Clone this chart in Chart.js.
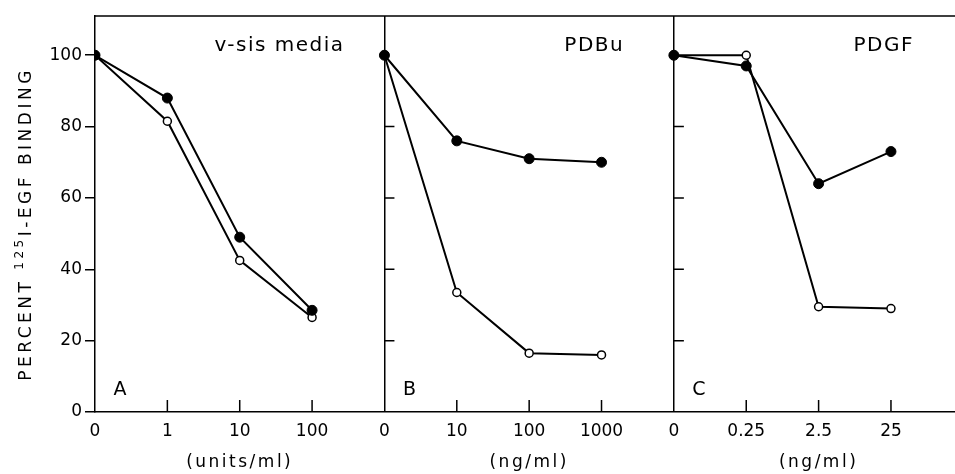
<!DOCTYPE html>
<html>
<head>
<meta charset="utf-8">
<title>Percent 125I-EGF binding</title>
<script src="https://cdn.jsdelivr.net/npm/chart.js@4.4.1/dist/chart.umd.min.js"></script>
<style>
  html, body { margin: 0; padding: 0; background: #fff; }
  #wrap { width: 955px; height: 474px; }
</style>
</head>
<body>
<div id="wrap"><canvas id="binding" width="955" height="474"></canvas></div>
<script>
// dose labels for each panel
const dosesA = ['0', '1', '10', '100'];
const dosesB = ['0', '10', '100', '1000'];
const dosesC = ['0', '0.25', '2.5', '25'];

// percent binding, filled circles and open circles
const filledA = [100, 88, 49, 28.5];
const openA = [100, 81.5, 42.5, 26.5];
const filledB = [100, 76, 71, 70];
const openB = [100, 33.5, 16.5, 16];
const filledC = [100, 97, 64, 73];
const openC = [100, 100, 29.5, 29];

const panelLetters = ['A', 'B', 'C'];
const panelTitles = ['v-sis media', 'PDBu', 'PDGF'];
const unitLabels = ['(units/ml)', '(ng/ml)', '(ng/ml)'];
const yTicks = [0, 20, 40, 60, 80, 100];

const doses = [dosesA, dosesB, dosesC];
const SPAN = 4;            // x units per panel
const FONT = "'DejaVu Sans', sans-serif";

function points(panel, values) {
    return values.map((v, i) => ({ x: panel * SPAN + i, y: v }));
}

function series(panel, values, filled) {
    return {
        data: points(panel, values),
        showLine: true,
        borderColor: '#000',
        borderWidth: 2,
        pointRadius: filled ? 5 : 4,
        pointBorderWidth: filled ? 1 : 1.5,
        pointBackgroundColor: filled ? '#000' : '#fff',
        pointBorderColor: '#000'
    };
}

// inner tick marks, panel separators, top frame and the free text
const panelDecor = {
    id: 'panelDecor',
    beforeDatasetsDraw(chart) {
        const { ctx, chartArea, scales: { x, y } } = chart;
        ctx.save();
        ctx.strokeStyle = '#000';
        ctx.lineWidth = 1.5;
        ctx.beginPath();
        ctx.moveTo(chartArea.left, chartArea.top);
        ctx.lineTo(chartArea.right, chartArea.top);
        // x ticks point up into the plot
        for (let p = 0; p < doses.length; p++) {
            for (let i = 1; i < doses[p].length; i++) {
                const px = x.getPixelForValue(p * SPAN + i);
                ctx.moveTo(px, chartArea.bottom);
                ctx.lineTo(px, chartArea.bottom - 12);
            }
        }
        // y ticks on the B and C separators point right
        for (let p = 1; p < doses.length; p++) {
            const px = x.getPixelForValue(p * SPAN);
            yTicks.slice(1, -1).forEach(v => {
                const py = y.getPixelForValue(v);
                ctx.moveTo(px, py);
                ctx.lineTo(px + 10, py);
            });
        }
        ctx.stroke();
        ctx.restore();
    },
    afterDraw(chart) {
        const { ctx, chartArea, scales: { x } } = chart;
        ctx.save();
        ctx.fillStyle = '#000';
        ctx.textBaseline = 'middle';
        const titleAt = [2.55, 2.9, 2.9];
        for (let p = 0; p < 3; p++) {
            const left = x.getPixelForValue(p * SPAN);
            ctx.textAlign = 'center';
            ctx.font = '20px ' + FONT;
            ctx.letterSpacing = '1.5px';
            ctx.fillText(panelTitles[p], x.getPixelForValue(p * SPAN + titleAt[p]), chartArea.top + 30);
            ctx.font = '19px ' + FONT;
            ctx.letterSpacing = '0px';
            ctx.fillText(panelLetters[p], left + 25, chartArea.bottom - 22);
            ctx.font = '17px ' + FONT;
            ctx.letterSpacing = '2.5px';
            ctx.fillText(unitLabels[p], x.getPixelForValue(p * SPAN + 2), 463);
        }

        // y title with a raised isotope number
        const runs = [
            { t: 'PERCENT ', size: 17, rise: 0 },
            { t: '125', size: 12, rise: 7 },
            { t: 'I-EGF BINDING', size: 17, rise: 0 }
        ];
        ctx.letterSpacing = '3.5px';
        let total = 0;
        runs.forEach(r => {
            ctx.font = r.size + 'px ' + FONT;
            r.w = ctx.measureText(r.t).width;
            total += r.w;
        });
        ctx.translate(27, (chartArea.top + chartArea.bottom) / 2 + 10);
        ctx.rotate(-Math.PI / 2);
        ctx.textAlign = 'left';
        let pos = -total / 2;
        runs.forEach(r => {
            ctx.font = r.size + 'px ' + FONT;
            ctx.fillText(r.t, pos, -r.rise);
            pos += r.w;
        });
        ctx.restore();
    }
};

new Chart(document.getElementById('binding'), {
    type: 'scatter',
    data: {
        datasets: [
            series(0, filledA, true),
            series(1, filledB, true),
            series(2, filledC, true),
            series(0, openA, false),
            series(1, openB, false),
            series(2, openC, false)
        ]
    },
    options: {
        responsive: false,
        animation: false,
        layout: { autoPadding: false, padding: { top: 16, right: 0, bottom: 0, left: 0 } },
        plugins: {
            legend: { display: false },
            tooltip: { enabled: false }
        },
        scales: {
            x: {
                type: 'linear',
                min: 0,
                max: 11.885,
                afterBuildTicks: s => {
                    s.ticks = [];
                    doses.forEach((d, p) => d.forEach((_, i) => s.ticks.push({ value: p * SPAN + i })));
                },
                afterFit: s => { s.height = 62; },
                ticks: {
                    autoSkip: false,
                    maxRotation: 0,
                    padding: 9,
                    color: '#000',
                    font: { family: FONT, size: 17 },
                    callback: v => {
                        const n = Math.round(v);
                        return doses[Math.floor(n / SPAN)][n % SPAN];
                    }
                },
                grid: {
                    drawTicks: false,
                    lineWidth: 1.5,
                    color: c => (c.tick && c.tick.value > 0 && c.tick.value % SPAN === 0) ? '#000' : 'rgba(0,0,0,0)'
                },
                border: { display: true, color: '#000', width: 1.5 }
            },
            y: {
                min: 0,
                max: 111,
                afterBuildTicks: s => { s.ticks = yTicks.map(v => ({ value: v })); },
                afterFit: s => { s.width = 95; },
                ticks: {
                    padding: 3,
                    color: '#000',
                    font: { family: FONT, size: 17 }
                },
                grid: {
                    drawOnChartArea: false,
                    drawTicks: true,
                    tickLength: 10,
                    color: '#000',
                    lineWidth: 1.5
                },
                border: { display: true, color: '#000', width: 1.5 }
            }
        }
    },
    plugins: [panelDecor]
});
</script>
</body>
</html>
